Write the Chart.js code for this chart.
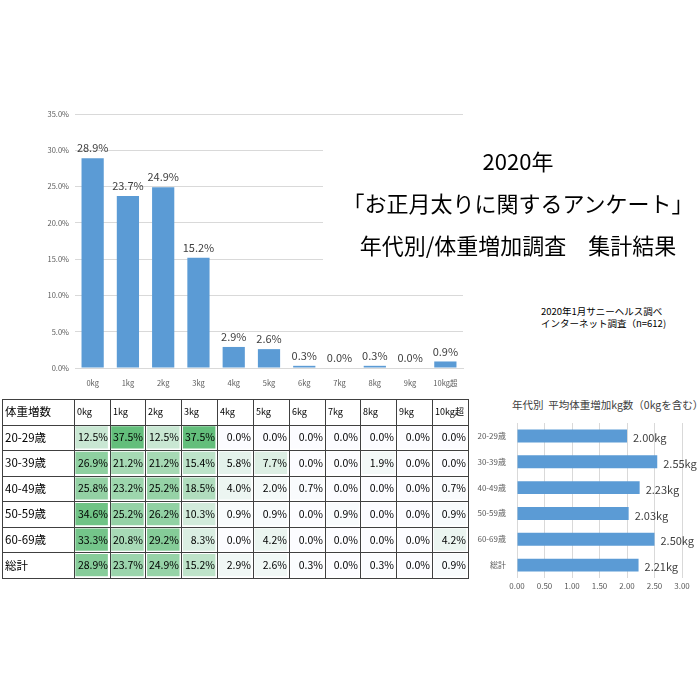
<!DOCTYPE html>
<html>
<head>
<meta charset="utf-8">
<script src="https://cdn.jsdelivr.net/npm/chart.js@4/dist/chart.umd.min.js"></script>
<style>
    body { margin: 0; width: 700px; height: 700px; background: #fff; position: relative; overflow: hidden;
           font-family: "Noto Sans CJK JP", sans-serif; }
    .box { position: absolute; }
    #titleBox { left: 323px; top: 138px; width: 390px; height: 125px; background: #fff; color: #000; }
    #titleBox div { position: absolute; left: 0; right: 0; height: 42px; line-height: 42px; text-align: center; font-size: 22px; white-space: nowrap; }
    #source { left: 541px; top: 305px; font-size: 9.5px; line-height: 12px; color: #000; white-space: nowrap; }
    #avgTitle { left: 512px; top: 397px; font-size: 10.5px; color: #404040; white-space: nowrap; }
</style>
</head>
<body>
<div class="box" style="left:30px;top:100px;width:440px;height:290px;"><canvas id="shareChart"></canvas></div>
<div class="box" id="titleBox">
    <div style="top:1px;">2020年</div>
    <div style="top:43px;">「お正月太りに関するアンケート」</div>
    <div style="top:85px;">年代別/体重増加調査　集計結果</div>
</div>
<div class="box" id="source">2020年1月サニーヘルス調べ<br>インターネット調査（n=612)</div>
<div class="box" style="left:1px;top:398px;width:468px;height:181px;"><canvas id="tableChart"></canvas></div>
<div class="box" id="avgTitle">年代別&nbsp;&nbsp;平均体重増加kg数（0kgを含む）</div>
<div class="box" style="left:470px;top:415px;width:230px;height:190px;"><canvas id="avgChart"></canvas></div>
<script>
// weight gain categories
const weightCats = ["0kg", "1kg", "2kg", "3kg", "4kg", "5kg", "6kg", "7kg", "8kg", "9kg", "10kg超"];
const totalShare = [28.9, 23.7, 24.9, 15.2, 2.9, 2.6, 0.3, 0.0, 0.3, 0.0, 0.9];

// table by age group
const tableCorner = "体重増数";
const ageGroups = ["20-29歳", "30-39歳", "40-49歳", "50-59歳", "60-69歳", "総計"];
const share20s = [12.5, 37.5, 12.5, 37.5, 0.0, 0.0, 0.0, 0.0, 0.0, 0.0, 0.0];
const share30s = [26.9, 21.2, 21.2, 15.4, 5.8, 7.7, 0.0, 0.0, 1.9, 0.0, 0.0];
const share40s = [25.8, 23.2, 25.2, 18.5, 4.0, 2.0, 0.7, 0.0, 0.0, 0.0, 0.7];
const share50s = [34.6, 25.2, 26.2, 10.3, 0.9, 0.9, 0.0, 0.9, 0.0, 0.0, 0.9];
const share60s = [33.3, 20.8, 29.2, 8.3, 0.0, 4.2, 0.0, 0.0, 0.0, 0.0, 4.2];

// average gain (kg)
const avgGain = [2.00, 2.55, 2.23, 2.03, 2.50, 2.21];

const BLUE = "#5B9BD5";
const GRID = "#D9D9D9";
const TICK = "#595959";
const FONT = "'Noto Sans CJK JP', sans-serif";

Chart.defaults.font.family = FONT;
Chart.defaults.animation = false;

// ---- bar chart: share by kg ----
new Chart(document.getElementById("shareChart"), {
    type: "bar",
    data: {
        labels: weightCats,
        datasets: [{ data: totalShare, backgroundColor: BLUE, barPercentage: 0.63, categoryPercentage: 1 }],
    },
    options: {
        responsive: true,
        maintainAspectRatio: false,
        layout: { padding: { top: 14, right: 7 } },
        plugins: { legend: { display: false }, tooltip: { enabled: false } },
        scales: {
            y: {
                min: 0, max: 35,
                ticks: { stepSize: 5, color: TICK, font: { size: 7.5 }, padding: 6, callback: (v) => v.toFixed(1) + "%" },
                grid: { color: GRID, drawTicks: false },
                border: { display: false },
                afterFit: (s) => { s.width = 45; },
            },
            x: {
                ticks: { color: TICK, font: { size: 7.5 }, maxRotation: 0, autoSkip: false },
                grid: { display: false },
                border: { color: GRID },
                afterFit: (s) => { s.height = 22; },
            },
        },
    },
    plugins: [{
        id: "shareLabels",
        afterDatasetsDraw(chart) {
            const ctx = chart.ctx;
            ctx.save();
            ctx.font = "11px " + FONT;
            ctx.fillStyle = "#404040";
            ctx.textAlign = "center";
            ctx.textBaseline = "middle";
            chart.getDatasetMeta(0).data.forEach((bar, i) => {
                ctx.fillText(totalShare[i].toFixed(1) + "%", bar.x, bar.y - 10);
            });
            ctx.restore();
        },
    }],
});

// ---- heat-map table ----
const tableRows = [tableCorner].concat(ageGroups);
const tableValues = [share20s, share30s, share40s, share50s, share60s, totalShare];
const tableMax = 37.5;

function heatColor(v) {
    const t = Math.max(0, Math.min(1, v / tableMax));
    const r = Math.round(252 + (99 - 252) * t);
    const g = Math.round(252 + (190 - 252) * t);
    const b = Math.round(255 + (123 - 255) * t);
    return "rgb(" + r + "," + g + "," + b + ")";
}

const tableSets = [{
    data: tableRows.map(() => [0, 2]),
    backgroundColor: "#fff",
    cellText: tableRows,
}];
weightCats.forEach((cat, k) => {
    const vals = tableValues.map((row) => row[k]);
    tableSets.push({
        data: tableRows.map(() => [k + 2, k + 3]),
        backgroundColor: ["#fff"].concat(vals.map(heatColor)),
        cellText: [cat].concat(vals.map((v) => v.toFixed(1) + "%")),
    });
});

new Chart(document.getElementById("tableChart"), {
    type: "bar",
    data: {
        labels: tableRows,
        datasets: tableSets.map((s) => Object.assign(s, {
            borderWidth: 2, borderColor: "#fff", borderSkipped: false,
            barPercentage: 1, categoryPercentage: 1, grouped: false,
        })),
    },
    options: {
        indexAxis: "y",
        responsive: true,
        maintainAspectRatio: false,
        layout: { padding: 1 },
        plugins: { legend: { display: false }, tooltip: { enabled: false } },
        scales: {
            x: { type: "linear", min: 0, max: 13, display: false },
            y: { display: false },
        },
    },
    plugins: [{
        id: "tableCells",
        afterDatasetsDraw(chart) {
            const ctx = chart.ctx;
            ctx.save();
            ctx.textBaseline = "middle";
            chart.data.datasets.forEach((ds, di) => {
                chart.getDatasetMeta(di).data.forEach((bar, ri) => {
                    const p = bar.getProps(["x", "y", "base", "height"], true);
                    const left = Math.round(Math.min(p.x, p.base));
                    const right = Math.round(Math.max(p.x, p.base));
                    const top = Math.round(p.y - p.height / 2);
                    const bottom = Math.round(p.y + p.height / 2);
                    ctx.strokeStyle = "#404040";
                    ctx.lineWidth = 1;
                    ctx.strokeRect(left + 0.5, top + 0.5, right - left, bottom - top);
                    ctx.fillStyle = "#000";
                    if (di === 0 || ri === 0) {
                        ctx.textAlign = "left";
                        ctx.font = (di > 0 ? "9px " : "11.5px ") + FONT;
                        ctx.fillText(ds.cellText[ri], left + 3, p.y);
                    } else {
                        ctx.textAlign = "right";
                        ctx.font = "10.5px " + FONT;
                        ctx.fillText(ds.cellText[ri], right - 2, p.y);
                    }
                });
            });
            ctx.restore();
        },
    }],
});

// ---- average gain horizontal bars ----
new Chart(document.getElementById("avgChart"), {
    type: "bar",
    data: {
        labels: ageGroups,
        datasets: [{ data: avgGain, backgroundColor: BLUE, barPercentage: 0.5, categoryPercentage: 1 }],
    },
    options: {
        indexAxis: "y",
        responsive: true,
        maintainAspectRatio: false,
        layout: { padding: { top: 8, right: 18 } },
        plugins: { legend: { display: false }, tooltip: { enabled: false } },
        scales: {
            x: {
                min: 0, max: 3,
                ticks: { stepSize: 0.5, color: TICK, font: { size: 8 }, callback: (v) => v.toFixed(2) },
                grid: { color: GRID, drawTicks: false },
                border: { display: false },
                afterFit: (s) => { s.height = 27; },
            },
            y: {
                ticks: { color: TICK, font: { size: 8 } },
                grid: { display: false },
                border: { display: false },
                afterFit: (s) => { s.width = 47; },
            },
        },
    },
    plugins: [{
        id: "avgLabels",
        afterDatasetsDraw(chart) {
            const ctx = chart.ctx;
            ctx.save();
            ctx.font = "11px " + FONT;
            ctx.fillStyle = "#404040";
            ctx.textAlign = "left";
            ctx.textBaseline = "middle";
            chart.getDatasetMeta(0).data.forEach((bar, i) => {
                ctx.fillText(avgGain[i].toFixed(2) + "kg", bar.x + 6, bar.y + 2);
            });
            ctx.restore();
        },
    }],
});
</script>
</body>
</html>
